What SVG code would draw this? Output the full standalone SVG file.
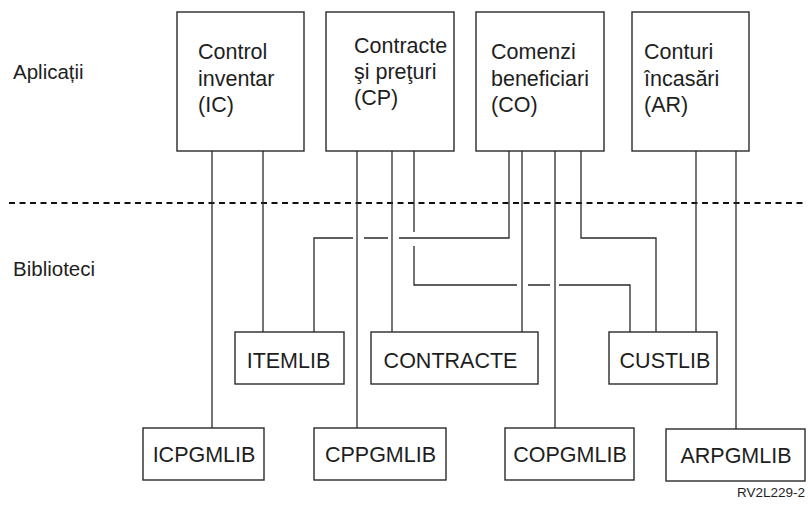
<svg xmlns="http://www.w3.org/2000/svg" width="808" height="508" viewBox="0 0 808 508">
<style>
  .box { fill: #ffffff; stroke: #2a2a2a; stroke-width: 1.4; }
  .t { font-family: "Liberation Sans", Arial, sans-serif; font-size: 21.5px; fill: #1e1e1e; }
  .lbl { font-family: "Liberation Sans", Arial, sans-serif; font-size: 20.5px; fill: #1e1e1e; }
  .c { fill: none; stroke: #2a2a2a; stroke-width: 1.3; }
  .sep { fill: none; stroke: #111; stroke-width: 2; stroke-dasharray: 6 4.5; }
</style>
<rect width="808" height="508" fill="#ffffff"/>

<text class="lbl" x="13" y="79">Aplicații</text>
<text class="lbl" x="13" y="276">Biblioteci</text>
<line class="sep" x1="9" y1="203" x2="803" y2="203"/>

<g id="connectors">
  <path class="c" d="M212,151 V428"/>
  <path class="c" d="M263,151 V332"/>
  <path class="c" d="M357,151 V428"/>
  <path class="c" d="M392,151 V332"/>
  <path class="c" d="M414,151 V232 M414,246 V285 H517 M528,285 H550 M559,285 H630 V332"/>
  <path class="c" d="M509,151 V238 H399 M388,238 H364 M353,238 H314 V332"/>
  <path class="c" d="M522,151 V332"/>
  <path class="c" d="M555,151 V428"/>
  <path class="c" d="M581,151 V238 H656 V332"/>
  <path class="c" d="M696,151 V332"/>
  <path class="c" d="M736,151 V429"/>
</g>

<g id="app-ic">
  <rect class="box" x="177" y="12" width="127" height="139"/>
  <text class="t" x="198" y="59">Control</text>
  <text class="t" x="198" y="86">inventar</text>
  <text class="t" x="198" y="112">(IC)</text>
</g>
<g id="app-cp">
  <rect class="box" x="326" y="12" width="128" height="139"/>
  <text class="t" x="354" y="53">Contracte</text>
  <text class="t" x="354" y="79">şi preţuri</text>
  <text class="t" x="354" y="105">(CP)</text>
</g>
<g id="app-co">
  <rect class="box" x="476" y="12" width="128" height="139"/>
  <text class="t" x="491" y="59">Comenzi</text>
  <text class="t" x="491" y="86">beneficiari</text>
  <text class="t" x="491" y="112">(CO)</text>
</g>
<g id="app-ar">
  <rect class="box" x="632" y="12" width="117" height="139"/>
  <text class="t" x="644" y="59">Conturi</text>
  <text class="t" x="644" y="86">încasări</text>
  <text class="t" x="644" y="112">(AR)</text>
</g>

<g id="lib-itemlib">
  <rect class="box" x="235" y="332" width="109" height="52"/>
  <text class="t" x="288.5" y="368" text-anchor="middle">ITEMLIB</text>
</g>
<g id="lib-contracte">
  <rect class="box" x="371" y="332" width="167" height="52"/>
  <text class="t" x="450.5" y="368" text-anchor="middle">CONTRACTE</text>
</g>
<g id="lib-custlib">
  <rect class="box" x="609" y="332" width="108" height="52"/>
  <text class="t" x="665" y="368" text-anchor="middle">CUSTLIB</text>
</g>

<g id="lib-icpgmlib">
  <rect class="box" x="143" y="428" width="121" height="52"/>
  <text class="t" x="204" y="462" text-anchor="middle">ICPGMLIB</text>
</g>
<g id="lib-cppgmlib">
  <rect class="box" x="314" y="428" width="132" height="52"/>
  <text class="t" x="380.5" y="462" text-anchor="middle">CPPGMLIB</text>
</g>
<g id="lib-copgmlib">
  <rect class="box" x="505" y="428" width="129" height="52"/>
  <text class="t" x="570" y="462" text-anchor="middle">COPGMLIB</text>
</g>
<g id="lib-arpgmlib">
  <rect class="box" x="666" y="429" width="139" height="52"/>
  <text class="t" x="736" y="463" text-anchor="middle">ARPGMLIB</text>
</g>

<text x="737" y="497" font-family="Liberation Sans, Arial, sans-serif" font-size="13.5" fill="#1e1e1e">RV2L229-2</text>
</svg>
